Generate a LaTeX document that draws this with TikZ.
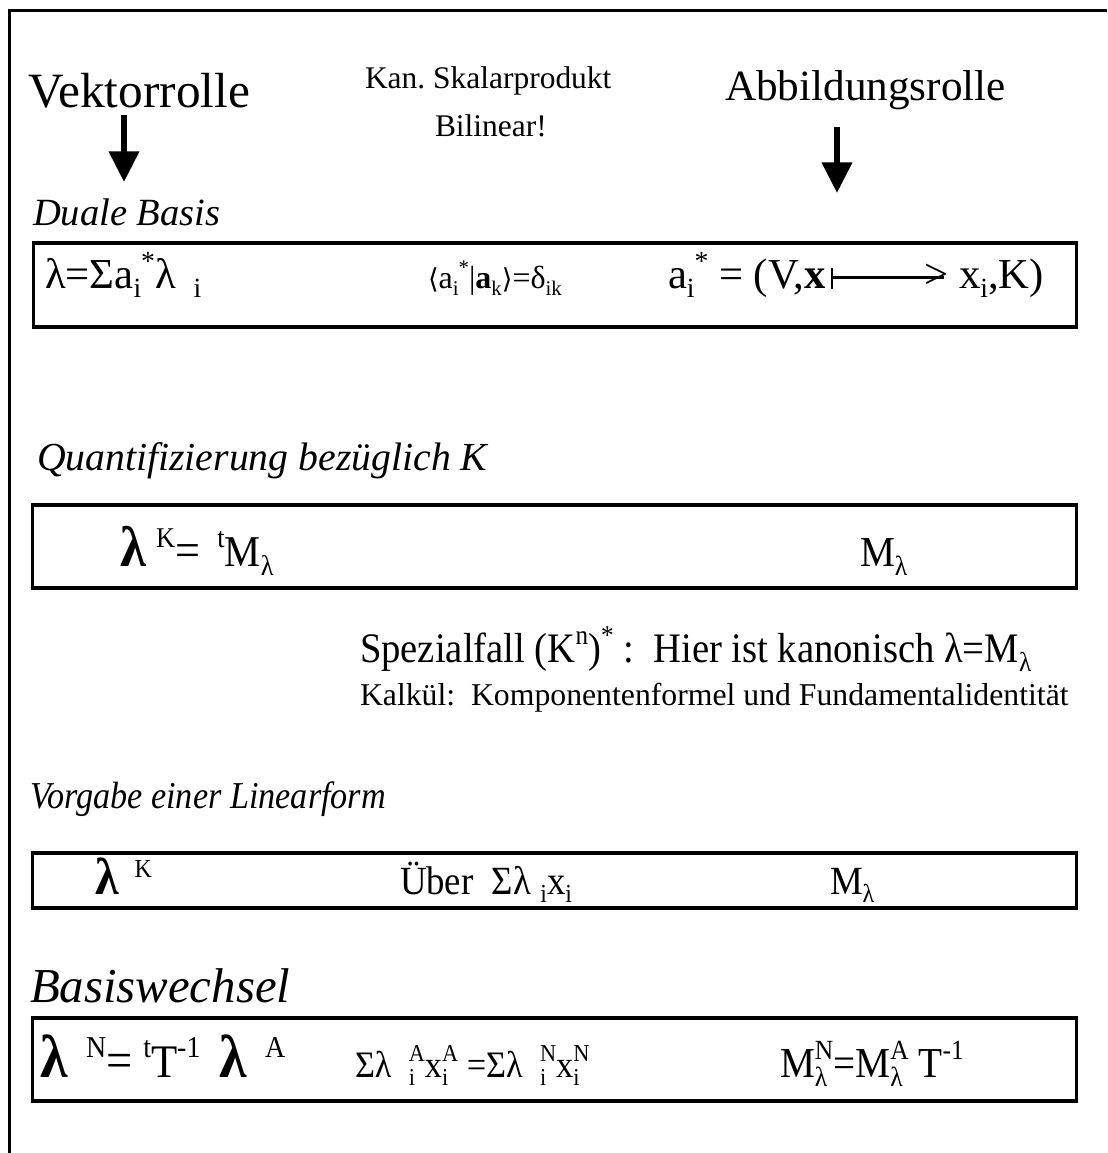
\documentclass[tikz,border=0pt]{standalone}
\usepackage{fontspec}
\setmainfont{Liberation Serif}
\newfontfamily\narrow[FakeStretch=0.92]{Liberation Serif}
\newfontfamily\narrowit[FakeStretch=0.9]{Liberation Serif Italic}
\newfontfamily\dv{DejaVu Serif}
\usetikzlibrary{arrows.meta}
\frenchspacing
\newcommand\hi[1]{\raisebox{0.42em}{\scalebox{0.65}{#1}}}
\newcommand\lo[1]{\raisebox{-0.22em}{\scalebox{0.65}{#1}}}
\newcommand\ud[2]{\rlap{\lo{#2}}\hi{#1}}
\newcommand\fs[1]{\fontsize{#1}{#1}\selectfont}
\newcommand\bl{\scalebox{1.3}{\textbf{λ}}}
\newcommand\mapsline{\kern0.12em\rule[-0.02em]{0.05em}{0.5em}\rule[0.22em]{2.6em}{0.05em}\kern-0.45em>}
\begin{document}
\begin{tikzpicture}[x=0.75pt,y=-0.75pt,
  txt/.style={anchor=base west,inner sep=0pt,outer sep=0pt},
  framestyle/.style={line width=2.25pt},
  box/.style={draw,line width=2.4pt,inner sep=0pt,minimum width=782.5pt},
  bigarrow/.style={line width=4.5pt,-{Triangle[width=22pt,length=23pt]}}]
\useasboundingbox (0,0) rectangle (1107,1153);
\draw[framestyle] (1107,10) -- (9,10) -- (9,1153);

% headings
\node[txt] (vek) at (28,107) {\fs{37}Vektorrolle};
\node[txt] (kan) at (365,88) {\fs{23.6}Kan. Skalarprodukt};
\node[txt] (bil) at (435,136) {\fs{23.6}Bilinear!};
\node[txt] (abb) at (725,100) {\fs{32.4}Abbildungsrolle};
\coordinate (vekA) at (124,115);
\coordinate (vekB) at (124,182);
\coordinate (abbA) at (837,127);
\coordinate (abbB) at (837,193);
\draw[bigarrow] (vekA) -- (vekB);
\draw[bigarrow] (abbA) -- (abbB);

% Duale Basis
\node[txt] (dual) at (33,225) {\fs{28.9}\itshape Duale Basis};
\node[box,minimum height=63pt] (b1) at (555,285) {};
\node[txt] (b1a) at (45,288) {\fs{32}λ=Σa\lo{i}\hi{*}λ\ \,\lo{i}};
\node[txt] (b1b) at (428,288) {\fs{24}{\dv\fs{20.5}⟨}a\lo{i}\hi{*}|\textbf{a}\lo{k}{\dv\fs{20.5}⟩}=δ\lo{ik}};
\node[txt] (b1c) at (668,288) {\fs{32}a\lo{i}\hi{*} = (V,\textbf{x}\mapsline\ x\lo{i},K)};

% Quantifizierung
\node[txt] (quant) at (37,470) {\fs{29.8}\itshape Quantifizierung bezüglich K};
\node[box,minimum height=62.25pt] (b2) at (554.5,546.5) {};
\node[txt] (b2a) at (120,566) {\narrow\fs{33}\bl\ \hi{K}{\fs{36}=} \,\hi{t}M\lo{λ}};
\node[txt] (b2b) at (860,566) {\narrow\fs{32}M\lo{λ}};

\node[txt] (spez) at (360,662) {\narrow\fs{31.5}Spezialfall (K\hi{n})\hi{*} :\ \ Hier ist kanonisch λ=M\lo{λ}};
\node[txt] (kalk) at (360,705) {\fs{23.8}Kalkül:\ \ Komponentenformel und Fundamentalidentität};

% Vorgabe
\node[txt] (vorg) at (30,808) {\narrowit\fs{28.5}Vorgabe einer Linearform};
\node[box,minimum height=41.25pt] (b3) at (554.5,880.5) {};
\node[txt] (b3a) at (95,894) {\narrow\fs{30}\bl\ \,\hi{K}};
\node[txt] (b3b) at (400,894) {\narrow\fs{30}Über\ \ Σλ\ \lo{i}x\lo{i}};
\node[txt] (b3c) at (830,894) {\narrow\fs{30}M\lo{λ}};

% Basiswechsel
\node[txt] (basw) at (30,1002) {\fs{36.6}\itshape Basiswechsel};
\node[box,minimum height=62.25pt] (b4) at (554.5,1059.5) {};
\node[txt] (b4a) at (40,1077) {\narrow\fs{35}\bl\ \,\hi{N}{\fs{38}=} \hi{t}T\hi{-1}\ \,\bl\ \,\hi{A}};
\node[txt] (b4b) at (355,1077) {\narrow\fs{28}Σλ\ \ \ud{A}{i}x\ud{A}{i}\ =Σλ\ \ \ud{N}{i}x\ud{N}{i}};
\node[txt] (b4c) at (780,1077) {\narrow\fs{32}M\ud{N}{λ}=M\ud{A}{λ}\ T\hi{-1}};
\end{tikzpicture}
\end{document}
